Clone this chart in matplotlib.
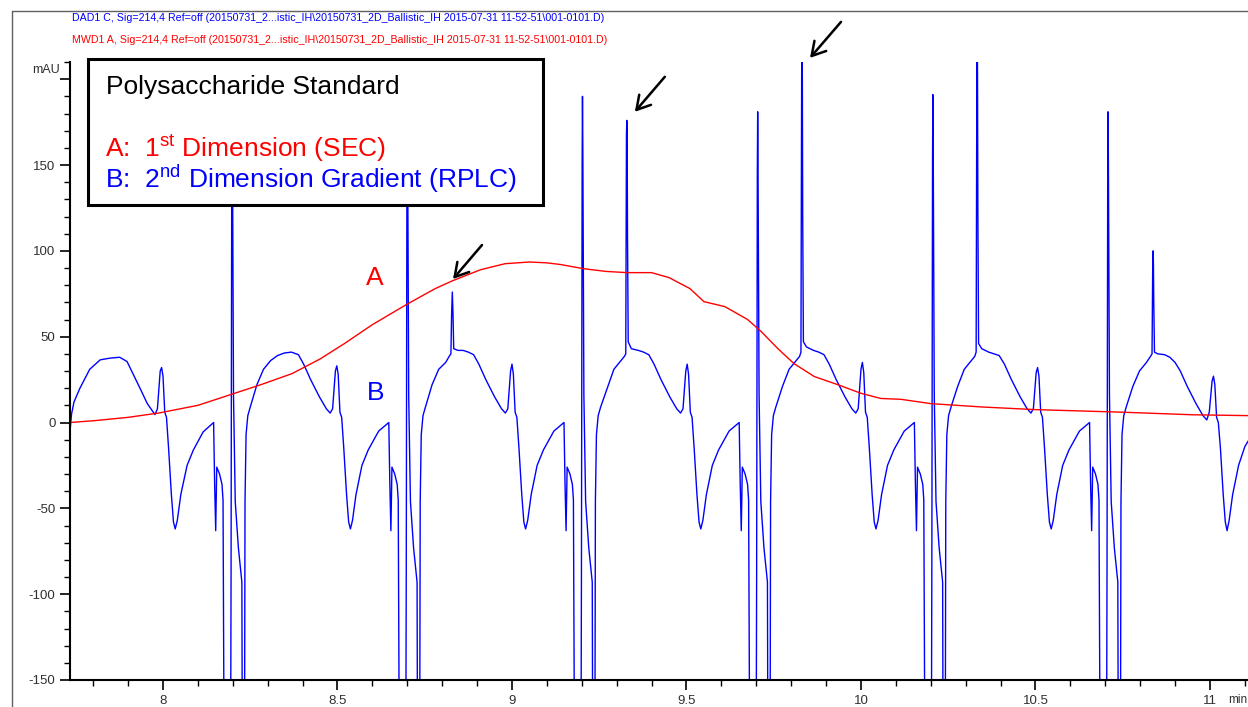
import matplotlib
matplotlib.use('Agg')
import matplotlib.pyplot as plt
from matplotlib.patches import Rectangle
from matplotlib.lines import Line2D
from matplotlib.ticker import MultipleLocator

# ---- data ----
# signal B (2nd dimension, blue), one list pair per modulation cycle
b0_t = [7.7335, 7.734, 7.738, 7.745, 7.762, 7.790, 7.820, 7.848, 7.876, 7.897, 7.915, 7.934, 7.955, 7.977,
        7.984, 7.992, 7.996, 8.000, 8.005, 8.010, 8.016, 8.024, 8.030, 8.035, 8.041, 8.051, 8.069, 8.087,
        8.115, 8.145]
b0_y = [-28, -4, 5, 12, 20, 31, 36.5, 37.5, 38, 35.5, 28, 20, 11, 4.6,
        8, 30, 32, 27, 6, 3, -15, -42, -58, -62, -57, -42, -25, -16,
        -5.5, 0]

b1_t = [8.148, 8.151, 8.154, 8.162, 8.169, 8.172, 8.174, 8.176, 8.193, 8.195, 8.197, 8.198, 8.199, 8.202,
        8.207, 8.216, 8.226, 8.228, 8.233, 8.235, 8.238, 8.243, 8.250, 8.269, 8.288, 8.308, 8.328, 8.348,
        8.368, 8.388, 8.403, 8.423, 8.448, 8.468, 8.479, 8.486, 8.494, 8.498, 8.502, 8.507, 8.512, 8.518,
        8.526, 8.532, 8.537, 8.543, 8.553, 8.570, 8.588, 8.618, 8.647]
b1_y = [-36, -63, -26, -30, -36, -45, -135, -250, -250, -90, 150, 190, 160, 16,
        -46, -73, -93, -250, -250, -46, -7, 4, 9, 22, 31, 36, 39, 40.5,
        41, 39.5, 34, 25, 15, 8, 5.5, 8, 30, 33, 28, 6, 3, -15,
        -42, -58, -62, -57, -42, -25, -16, -5, 0]

b2_t = [8.650, 8.653, 8.656, 8.664, 8.671, 8.674, 8.676, 8.678, 8.695, 8.697, 8.699, 8.700, 8.701, 8.704,
        8.709, 8.718, 8.728, 8.730, 8.735, 8.737, 8.740, 8.745, 8.752, 8.771, 8.790, 8.810, 8.820, 8.825,
        8.827, 8.829, 8.831, 8.833, 8.845, 8.860, 8.875, 8.890, 8.905, 8.925, 8.950, 8.970, 8.981, 8.988,
        8.996, 9.000, 9.004, 9.009, 9.014, 9.020, 9.028, 9.034, 9.039, 9.045, 9.055, 9.072, 9.090, 9.120,
        9.149]
b2_y = [-36, -63, -26, -30, -36, -45, -135, -250, -250, -90, 150, 190, 160, 16,
        -46, -73, -93, -250, -250, -46, -7, 4, 9, 22, 31, 35, 38.5, 40,
        63, 76, 63, 43, 42, 42, 41, 39.5, 34, 25, 15, 8, 5.5, 8,
        30, 34, 28, 6, 3, -15, -42, -58, -62, -57, -42, -25, -16, -5,
        0]

b3_t = [9.152, 9.155, 9.158, 9.166, 9.173, 9.176, 9.178, 9.180, 9.197, 9.199, 9.201, 9.202, 9.203, 9.206,
        9.211, 9.220, 9.230, 9.232, 9.237, 9.239, 9.242, 9.247, 9.254, 9.273, 9.292, 9.312, 9.322, 9.326,
        9.327, 9.328, 9.329, 9.330, 9.331, 9.333, 9.342, 9.362, 9.377, 9.392, 9.407, 9.427, 9.452, 9.472,
        9.483, 9.490, 9.498, 9.502, 9.506, 9.511, 9.516, 9.522, 9.530, 9.536, 9.541, 9.547, 9.557, 9.574,
        9.592, 9.622, 9.651]
b3_y = [-36, -63, -26, -30, -36, -45, -135, -250, -250, -90, 150, 190, 160, 16,
        -46, -73, -93, -250, -250, -46, -7, 4, 9, 20, 31, 36, 38.5, 40,
        110, 168, 176, 168, 110, 47, 43, 42, 41, 39.5, 34, 25, 15, 8,
        5.5, 8, 30, 34, 28, 6, 3, -15, -42, -58, -62, -57, -42, -25,
        -16, -5, 0]

b4_t = [9.654, 9.657, 9.660, 9.668, 9.675, 9.678, 9.680, 9.682, 9.699, 9.701, 9.703, 9.704, 9.705, 9.708,
        9.713, 9.722, 9.732, 9.734, 9.739, 9.741, 9.744, 9.749, 9.756, 9.775, 9.794, 9.814, 9.824, 9.828,
        9.829, 9.830, 9.831, 9.832, 9.833, 9.835, 9.844, 9.864, 9.879, 9.894, 9.909, 9.929, 9.954, 9.974,
        9.985, 9.992, 10.000, 10.004, 10.008, 10.013, 10.018, 10.024, 10.032, 10.038, 10.043, 10.049,
        10.059, 10.076, 10.094, 10.124, 10.153]
b4_y = [-36, -63, -26, -30, -36, -45, -135, -250, -250, -90, 145, 181, 150, 16,
        -46, -73, -93, -250, -250, -46, -7, 4, 9, 21, 31, 36, 38.5, 41,
        120, 200, 240, 200, 120, 47, 44, 42, 41, 39.5, 34, 25, 15, 8,
        5.5, 8, 31, 35, 29, 6, 3, -15, -42, -58, -62, -57,
        -42, -25, -16, -5, 0]

b5_t = [10.156, 10.159, 10.162, 10.170, 10.177, 10.180, 10.182, 10.184, 10.201, 10.203, 10.205, 10.206,
        10.207, 10.210, 10.215, 10.224, 10.234, 10.236, 10.241, 10.243, 10.246, 10.251, 10.258, 10.277,
        10.296, 10.316, 10.326, 10.330, 10.331, 10.332, 10.333, 10.334, 10.335, 10.337, 10.346, 10.366,
        10.381, 10.396, 10.411, 10.431, 10.456, 10.476, 10.487, 10.494, 10.502, 10.506, 10.510, 10.515,
        10.520, 10.526, 10.534, 10.540, 10.545, 10.551, 10.561, 10.578, 10.596, 10.626, 10.655]
b5_y = [-36, -63, -26, -30, -36, -45, -135, -250, -250, -90, 150, 191,
        160, 16, -46, -73, -93, -250, -250, -46, -7, 4, 9, 21,
        31, 36, 38.5, 41, 120, 200, 240, 200, 120, 46, 43, 41,
        40, 39, 34, 25, 15, 8, 5.5, 8, 29, 32, 27, 6,
        3, -15, -42, -58, -62, -57, -42, -25, -16, -5, 0]

b6_t = [10.658, 10.661, 10.664, 10.672, 10.679, 10.682, 10.684, 10.686, 10.703, 10.705, 10.707, 10.708,
        10.709, 10.712, 10.717, 10.726, 10.736, 10.738, 10.743, 10.745, 10.748, 10.753, 10.760, 10.779,
        10.798, 10.818, 10.828, 10.834, 10.835, 10.836, 10.837, 10.838, 10.839, 10.841, 10.850, 10.870,
        10.885, 10.900, 10.915, 10.935, 10.960, 10.980, 10.991, 10.998, 11.006, 11.010, 11.014, 11.019,
        11.024, 11.030, 11.038, 11.044, 11.049, 11.055, 11.065, 11.082, 11.100, 11.130]
b6_y = [-36, -63, -26, -30, -36, -45, -135, -250, -250, -90, 145, 181,
        150, 16, -46, -73, -93, -250, -250, -46, -7, 4, 9, 21,
        30, 35, 38, 40, 70, 92, 100, 92, 70, 41, 40, 39.5,
        38, 35, 30, 21, 11, 4, 1.5, 6, 24, 27, 22, 3,
        0, -15, -42, -58, -63, -57, -42, -25, -14, -4]

# signal A (1st dimension, red)
a_t = [7.7335, 7.80, 7.90, 7.99, 8.10, 8.19, 8.28, 8.37, 8.45, 8.52, 8.60, 8.70, 8.78, 8.83, 8.91, 8.98,
       9.05, 9.10, 9.14, 9.205, 9.27, 9.33, 9.40, 9.45, 9.51, 9.55, 9.61, 9.675, 9.714, 9.762, 9.808,
       9.866, 9.934, 10.00, 10.057, 10.115, 10.20, 10.35, 10.50, 10.75, 10.95, 11.11]
a_y = [0, 1, 3, 5.6, 10, 16, 22, 28.5, 37, 46, 57, 69, 78, 82.6, 89, 92.5,
       93.5, 93, 92, 89.6, 88, 87.3, 87.3, 84.4, 78, 70.4, 67.5, 60, 53, 43, 34.3,
       26.8, 22, 17, 14, 13.5, 11, 9, 7.5, 6, 4.5, 4]

x_ticks = [8, 8.5, 9, 9.5, 10, 10.5, 11]
x_labels = ['8', '8.5', '9', '9.5', '10', '10.5', '11']
y_ticks = [-150, -100, -50, 0, 50, 100, 150, 200]
y_labels = ['-150', '-100', '-50', '0', '50', '100', '150', '']

arrow_tips = [(8.831, 83.6), (9.352, 181), (9.854, 212.4)]

header_b = r'DAD1 C, Sig=214,4 Ref=off (20150731_2...istic_IH\20150731_2D_Ballistic_IH 2015-07-31 11-52-51\001-0101.D)'
header_a = r'MWD1 A, Sig=214,4 Ref=off (20150731_2...istic_IH\20150731_2D_Ballistic_IH 2015-07-31 11-52-51\001-0101.D)'

W, H = 1248, 707


def fx(px):
    return px / W


def fy(py):
    return 1 - py / H


sans = ['Liberation Sans', 'DejaVu Sans']

fig = plt.figure(figsize=(W / 100, H / 100), dpi=100)
ax = fig.add_axes([fx(70), fy(680), (W - 70) / W, (680 - 62) / H])

b_t = b0_t + b1_t + b2_t + b3_t + b4_t + b5_t + b6_t
b_y = b0_y + b1_y + b2_y + b3_y + b4_y + b5_y + b6_y
ax.plot(b_t, b_y, color='#0000ff', lw=1.0)
ax.plot(a_t, a_y, color='#ff0000', lw=1.0)

ax.set_xlim(7.7335, 11.109)
ax.set_ylim(-150, 210)
ax.set_xticks(x_ticks)
ax.set_xticklabels(x_labels)
ax.set_yticks(y_ticks)
ax.set_yticklabels(y_labels)
ax.xaxis.set_minor_locator(MultipleLocator(0.1))
ax.yaxis.set_minor_locator(MultipleLocator(10))
ax.tick_params(which='major', length=7, width=1.2, direction='out', labelsize=9.5, labelcolor='#303030')
ax.tick_params(which='minor', length=4, width=1.0, direction='out')
for lab in ax.get_xticklabels() + ax.get_yticklabels():
    lab.set_family(sans)
for s in ['top', 'right']:
    ax.spines[s].set_visible(False)
for s in ['left', 'bottom']:
    ax.spines[s].set_linewidth(1.5)

ax.annotate('mAU', xy=(0, 200), xycoords=('axes fraction', 'data'), xytext=(-10, 9),
            textcoords='offset pixels', ha='right', va='center', fontsize=9,
            color='#303030', family=sans, annotation_clip=False)
fig.text(fx(1247), fy(700), 'min', fontsize=8.5, color='#303030', family=sans, va='center', ha='right')

# curve labels
ax.text(8.607, 84, 'A', color='#ff0000', fontsize=19, family=sans, ha='center', va='center')
ax.text(8.610, 17, 'B', color='#0000ff', fontsize=19, family=sans, ha='center', va='center')

# arrows to the 2nd dimension peaks
for (tx, ty), off in zip(arrow_tips, [(29, 34), (30, 35), (31, 36)]):
    ax.annotate('', xy=(tx, ty), xytext=off, textcoords='offset pixels',
                arrowprops=dict(arrowstyle='->,head_length=0.6,head_width=0.35', color='black',
                                lw=1.8, shrinkA=0, shrinkB=0, mutation_scale=16),
                annotation_clip=False)

# legend box
fig.add_artist(Rectangle((fx(88), fy(205)), (543 - 88) / W, (205 - 59) / H, transform=fig.transFigure,
                         facecolor='white', edgecolor='black', lw=2.2, zorder=5))
fig.text(fx(106), fy(94), 'Polysaccharide Standard', fontsize=19, family=sans, color='black',
         va='baseline', zorder=6)
fig.text(fx(105), fy(157), r'A:  1$^{\mathregular{st}}$ Dimension (SEC)', fontsize=19, family=sans,
         color='#ff0000', va='baseline', zorder=6)
fig.text(fx(105), fy(188), r'B:  2$^{\mathregular{nd}}$ Dimension Gradient (RPLC)', fontsize=19,
         family=sans, color='#0000ff', va='baseline', zorder=6)

# header lines and outer frame
fig.text(fx(72), fy(18), header_b, fontsize=7.7, family=sans, color='#0000ff', va='center')
fig.text(fx(72), fy(40), header_a, fontsize=7.7, family=sans, color='#ff0000', va='center')
fig.add_artist(Line2D([fx(12), fx(12), 1], [0, fy(11), fy(11)], transform=fig.transFigure,
                      color='#606060', lw=1.0))

fig.savefig('out.png', dpi=100, facecolor='white')
